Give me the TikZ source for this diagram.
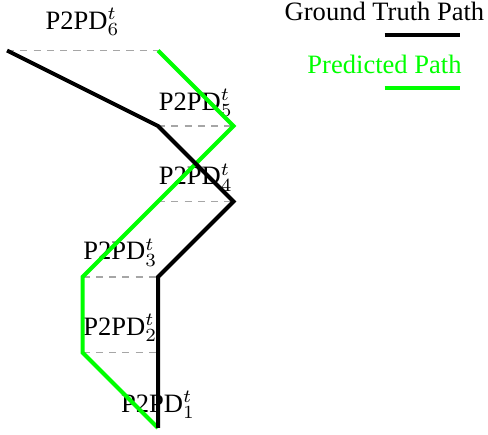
\documentclass[tikz,border=0pt]{standalone}
\usepackage{fontspec}
\setmainfont{Liberation Serif}

\begin{document}
\begin{tikzpicture}[
  gtpath/.style={line width=1.5pt,color=black},
  predpath/.style={line width=1.5pt,color=green},
  gapline/.style={line width=0.5pt,color=gray!70,dash pattern=on 2.7pt off 2.3pt},
  gaplabel/.style={anchor=base,inner sep=0pt,font=\fontsize{10}{12}\selectfont},
  legendtext/.style={inner sep=0pt,font=\fontsize{10}{12}\selectfont}
]
\useasboundingbox (-2.093,-0.093) rectangle (4.371,5.669);

%gaps
\draw[gapline] (-2,5)--(0,5);
\draw[gapline] (0,4)--(1,4);
\draw[gapline] (0,3)--(1,3);
\draw[gapline] (-1,2)--(0,2);
\draw[gapline] (-1,1)--(0,1);

%labels
\node[gaplabel] (d6) at (-1,5.28) {P2PD$_6^t$};
\node[gaplabel] (d5) at (0.5,4.21) {P2PD$_5^t$};
\node[gaplabel] (d4) at (0.5,3.22) {P2PD$_4^t$};
\node[gaplabel] (d3) at (-0.5,2.225) {P2PD$_3^t$};
\node[gaplabel] (d2) at (-0.5,1.23) {P2PD$_2^t$};
\node[gaplabel] (d1) at (0,0.21) {P2PD$_1^t$};

%predicted
\draw[predpath] (0,5)--(1,4)--(0,3)--(-1,2)--(-1,1)--(0,0);

%ground truth
\draw[gtpath] (-2,5)--(0,4)--(1,3)--(0,2)--(0,1)--(0,0);

%legend
\node[legendtext] (gtlegend) at (3,5.52) {Ground Truth Path};
\draw[gtpath] (3,5.2)--(4,5.2);
\node[legendtext,text=green] (predlegend) at (3,4.82) {Predicted Path};
\draw[predpath] (3,4.5)--(4,4.5);

\end{tikzpicture}
\end{document}
